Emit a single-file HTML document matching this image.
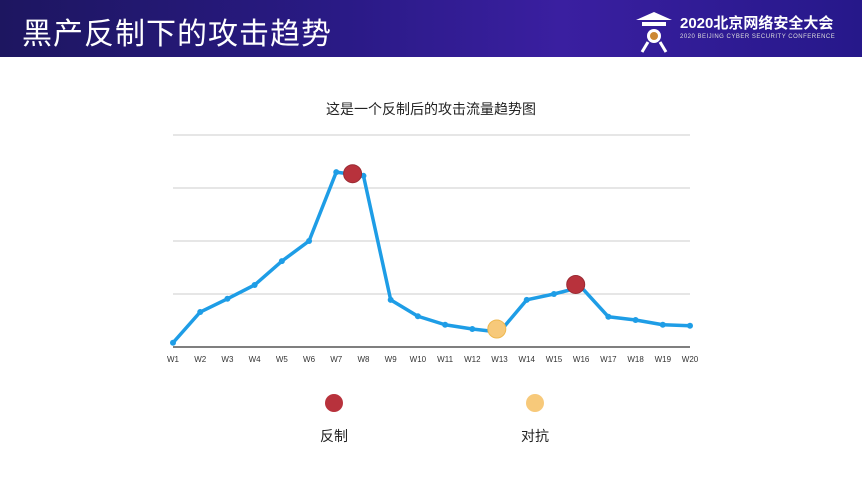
<!DOCTYPE html>
<html><head><meta charset="utf-8"><style>
body{margin:0;width:862px;height:484px;overflow:hidden;background:#fff;font-family:"Liberation Sans","Noto Sans CJK SC",sans-serif}
#hdr{position:absolute;left:0;top:0;width:862px;height:57px;background:linear-gradient(90deg,#1d1660 0%,#2a1a86 40%,#3a1fa0 65%,#26188a 100%)}
#title{position:absolute;left:22px;top:9px;color:#fff;font-size:30px;letter-spacing:1px}
#logo{position:absolute;left:680px;top:12px;color:#fff;font-size:15px;font-weight:bold}
#logo2{position:absolute;left:680px;top:34px;color:#ddd;font-size:6px;letter-spacing:0.5px}
</style></head><body>
<div id="hdr"></div>
<div id="title">黑产反制下的攻击趋势</div>
<svg style="position:absolute;left:632px;top:8px" width="44" height="46"><path d="M4 12 L22 4 L40 12 Z" fill="#fff"/><rect x="10" y="14" width="24" height="4" fill="#fff"/><circle cx="22" cy="28" r="7" fill="#fff"/><circle cx="22" cy="28" r="4" fill="#c83"/><path d="M10 44 L16 34 M34 44 L28 34" stroke="#fff" stroke-width="3"/></svg>
<div id="logo">2020北京网络安全大会</div>
<div id="logo2">2020 BEIJING CYBER SECURITY CONFERENCE</div>
<svg id="chart" width="862" height="484" style="position:absolute;left:0;top:0"></svg>
<script>
const categories=["W1","W2","W3","W4","W5","W6","W7","W8","W9","W10","W11","W12","W13","W14","W15","W16","W17","W18","W19","W20"];
const values=[0.08,0.66,0.91,1.17,1.62,2.0,3.3,3.23,0.89,0.58,0.42,0.34,0.28,0.89,1.0,1.13,0.57,0.51,0.42,0.4];
const gridTicks=[0,1,2,3,4];
const counterIdx=[6.6,14.8];
const counterVals=[3.27,1.18];
const fightIdx=[11.9];
const fightVals=[0.34];
const NS="http://www.w3.org/2000/svg",svg=document.getElementById("chart");
const x=i=>173+i*(690-173)/19, y=v=>347-v*53;
function mk(t,a){const e=document.createElementNS(NS,t);for(const k in a)e.setAttribute(k,a[k]);svg.appendChild(e);return e;}
let t=mk("text",{x:431,y:114,"text-anchor":"middle","font-size":14,fill:"#222"});t.textContent="这是一个反制后的攻击流量趋势图";


gridTicks.forEach(g=>{const l=mk("line",{x1:173,x2:690,y1:y(g),y2:y(g),stroke:g?"#ccc":"#555","stroke-width":g?1:1.5});

});
categories.forEach((c,i)=>{const e=mk("text",{x:x(i),y:362,"text-anchor":"middle","font-size":8,fill:"#333"});e.textContent=c;

});
const p=mk("polyline",{points:values.map((v,i)=>x(i)+","+y(v)).join(" "),fill:"none",stroke:"#1e9de6","stroke-width":3.5,"stroke-linejoin":"round"});


values.forEach((v,i)=>{const c=mk("circle",{cx:x(i),cy:y(v),r:3,fill:"#1e9de6"});

});
counterIdx.forEach((ix,k)=>{const c=mk("circle",{cx:x(ix),cy:y(counterVals[k]),r:9,fill:"#b8323c",stroke:"#9a2a33"});

});
fightIdx.forEach((ix,k)=>{const c=mk("circle",{cx:x(ix),cy:y(fightVals[k]),r:9,fill:"#f7c97a",stroke:"#eeb850"});

});
[[334,"#b8323c","反制"],[535,"#f7c97a","对抗"]].forEach(([lx,col,lab])=>{const c=mk("circle",{cx:lx,cy:403,r:9,fill:col});


const e=mk("text",{x:lx,y:441,"text-anchor":"middle","font-size":14,fill:"#222"});e.textContent=lab;

});
</script>
</body></html>
